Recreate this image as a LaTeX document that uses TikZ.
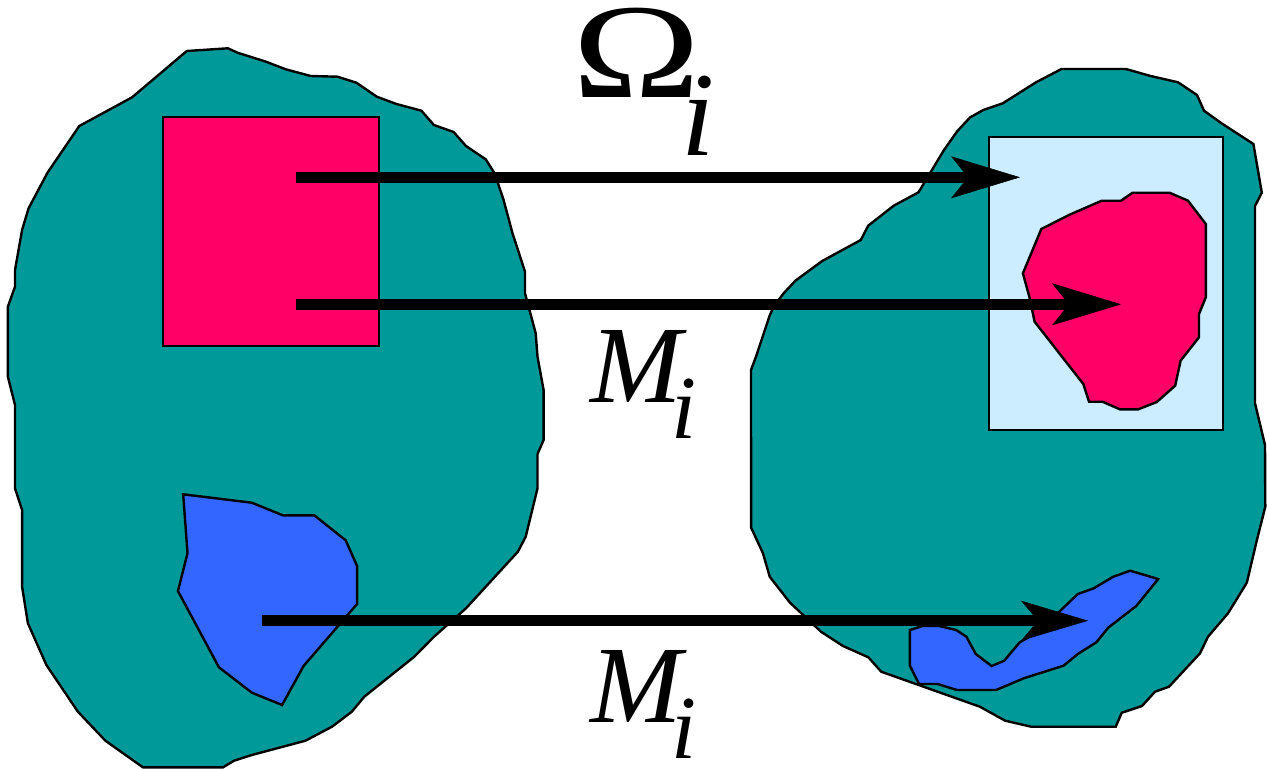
\documentclass[tikz,border=0pt]{standalone}
\usepackage{fontspec}
\setmainfont{Liberation Serif}
\usetikzlibrary{arrows.meta}
\definecolor{teal2}{HTML}{009999}
\definecolor{pink2}{HTML}{FF0066}
\definecolor{blue2}{HTML}{3366FF}
\definecolor{lblue}{HTML}{CCECFF}
\tikzset{
  region/.style={draw=black, line width=2.4pt},
  bigarrow/.style={line width=11pt, -{Stealth[length=69pt,width=42pt,inset=17pt,line width=0.5pt]}},
  smallarrow/.style={line width=11pt, -{Stealth[length=67pt,width=40pt,inset=17pt,line width=0.5pt]}},
  lbl/.style={anchor=base west, inner sep=0pt, outer sep=0pt}
}
\begin{document}
\begin{tikzpicture}[x=1pt,y=-1pt]
\useasboundingbox (0,0) rectangle (1267,769);
% left blob
\filldraw[region, fill=teal2] (186.8,51) -- (227.9,48.3) -- (237.5,52.7) -- (266,61.7) -- (285.7,69.3) -- (310.7,76) -- (337.5,76.7) -- (356.4,82.7) -- (376.8,96.7) -- (396.4,104) -- (421.4,110.7) -- (433.9,125) -- (453.6,132) -- (466,146) -- (485.7,159.3) -- (494.6,173.3) -- (503.6,200) -- (512.5,233.3) -- (525,271.7) -- (525,293.3) -- (535.7,333.3) -- (537.5,356.7) -- (543.6,390) -- (543.6,440) -- (537.5,454) -- (537.5,488.3) -- (525.7,536.7) -- (517.9,551.7) -- (466,608.3) -- (434,636.7) -- (414.3,656.7) -- (364.3,696.7) -- (351.8,711.7) -- (332,726.7) -- (305.4,740.7) -- (251.8,755) -- (234,760.7) -- (223,767.3) -- (142.9,767.3) -- (105.4,740.7) -- (77.9,711.7) -- (46.4,665) -- (27.9,623.3) -- (22.1,586.7) -- (22.1,510) -- (15,488.3) -- (15,405) -- (7.9,376.7) -- (7.9,306.7) -- (15,286.7) -- (15,270) -- (22.1,230) -- (28.6,208.3) -- (47.5,172.7) -- (79.3,126) -- (132.1,97.3) -- cycle;
% pink rectangle
\node[region, fill=pink2, minimum width=216pt, minimum height=229pt, inner sep=0pt, anchor=north west] (prect) at (162,116) {};
% blue left
\filldraw[region, fill=blue2] (183.2,494.3) -- (251.8,502.7) -- (282.9,515.3) -- (314.3,515.3) -- (345.7,540.3) -- (357.1,566) -- (357.1,604) -- (303.6,666) -- (282.1,705) -- (251.8,692.7) -- (218.9,667.3) -- (177.9,591) -- (187.5,553.3) -- cycle;
% right blob
\filldraw[region, fill=teal2] (1061.5,69) -- (1125.9,69) -- (1149.4,75.7) -- (1178,82.3) -- (1197,95) -- (1204,110.7) -- (1221.5,123.3) -- (1253.4,144) -- (1261.8,192.7) -- (1255,206) -- (1255,403.3) -- (1261.8,431.7) -- (1265,445) -- (1265.3,506.7) -- (1256.9,540) -- (1246.8,582.7) -- (1228,613.3) -- (1208,636.7) -- (1200,653.3) -- (1169,686.7) -- (1155,691.7) -- (1142,706) -- (1121.8,712.7) -- (1115.7,726.7) -- (1031.2,726.7) -- (1005.2,720.7) -- (979.9,706.7) -- (881.2,671.7) -- (868.4,657.3) -- (843,646) -- (821,631.7) -- (790,602.7) -- (769.7,576.7) -- (763,553.3) -- (751.1,527.7) -- (751,370) -- (756,356.7) -- (769.5,316) -- (773.6,306.7) -- (783.6,293.3) -- (795.4,280.7) -- (822.2,261) -- (860.8,240) -- (868.2,225.7) -- (893.7,205.7) -- (918.5,192.3) -- (944,150) -- (957.4,131) -- (970.2,117.3) -- (983.3,110) -- (1002.8,103.3) -- (1036,82.3) -- cycle;
% light blue rectangle
\node[region, fill=lblue, minimum width=234pt, minimum height=293pt, inner sep=0pt, anchor=north west] (lrect) at (988,136) {};
% pink blob right
\filldraw[region, fill=pink2] (1041.3,229) -- (1068.9,215) -- (1101.7,200.7) -- (1120.9,200.7) -- (1132.6,192.7) -- (1169.5,192.7) -- (1188,200.7) -- (1205.8,224) -- (1205.8,297.3) -- (1199,314) -- (1199,337.3) -- (1180.6,360.7) -- (1175.2,385.7) -- (1156.8,402) -- (1138.3,409.3) -- (1119.9,409.3) -- (1102.4,401.7) -- (1089,401.7) -- (1083.3,384) -- (1034.6,321.7) -- (1029.3,296.7) -- (1022.9,273.3) -- cycle;
% blue blob right
\filldraw[region, fill=blue2] (1130.2,570.7) -- (1158.2,579) -- (1136.3,606) -- (1108.2,627.7) -- (1096.4,642.3) -- (1077.8,654) -- (1063.6,665.7) -- (1023.8,678.3) -- (996.1,690) -- (956.9,690) -- (937.6,684) -- (919,684) -- (909.9,665.7) -- (909.9,630) -- (922.4,626) -- (939.3,626) -- (956.2,630) -- (966.4,636.7) -- (975.8,654) -- (991.7,666) -- (1004.2,660.7) -- (1019.7,642.3) -- (1036,633) -- (1060.3,610.7) -- (1077.8,594) -- (1093.7,588.3) -- (1113.3,576.7) -- cycle;
% arrows
\coordinate (s1) at (296,177.3);
\coordinate (e1) at (1020,177.3);
\coordinate (s2) at (296,304.3);
\coordinate (e2) at (1121,304.3);
\coordinate (s3) at (262,620.7);
\coordinate (e3) at (1088,620.7);
\draw[bigarrow] (s1) -- (e1);
\draw[bigarrow] (s2) -- (e2);
\draw[smallarrow] (s3) -- (e3);
% labels
\node[lbl] (omega) at (572,97) {\fontsize{135pt}{135pt}\selectfont\scalebox{1.28}[1]{Ω}\kern-19pt\raisebox{-58pt}{\fontsize{120pt}{120pt}\selectfont\itshape i}};
\node[lbl] (m1) at (590,402) {\fontsize{110pt}{110pt}\selectfont\itshape M\kern-10pt\raisebox{-36pt}{\fontsize{90pt}{90pt}\selectfont i}};
\node[lbl] (m2) at (590,722) {\fontsize{110pt}{110pt}\selectfont\itshape M\kern-10pt\smash{\raisebox{-36pt}{\fontsize{90pt}{90pt}\selectfont i}}};
\end{tikzpicture}
\end{document}
